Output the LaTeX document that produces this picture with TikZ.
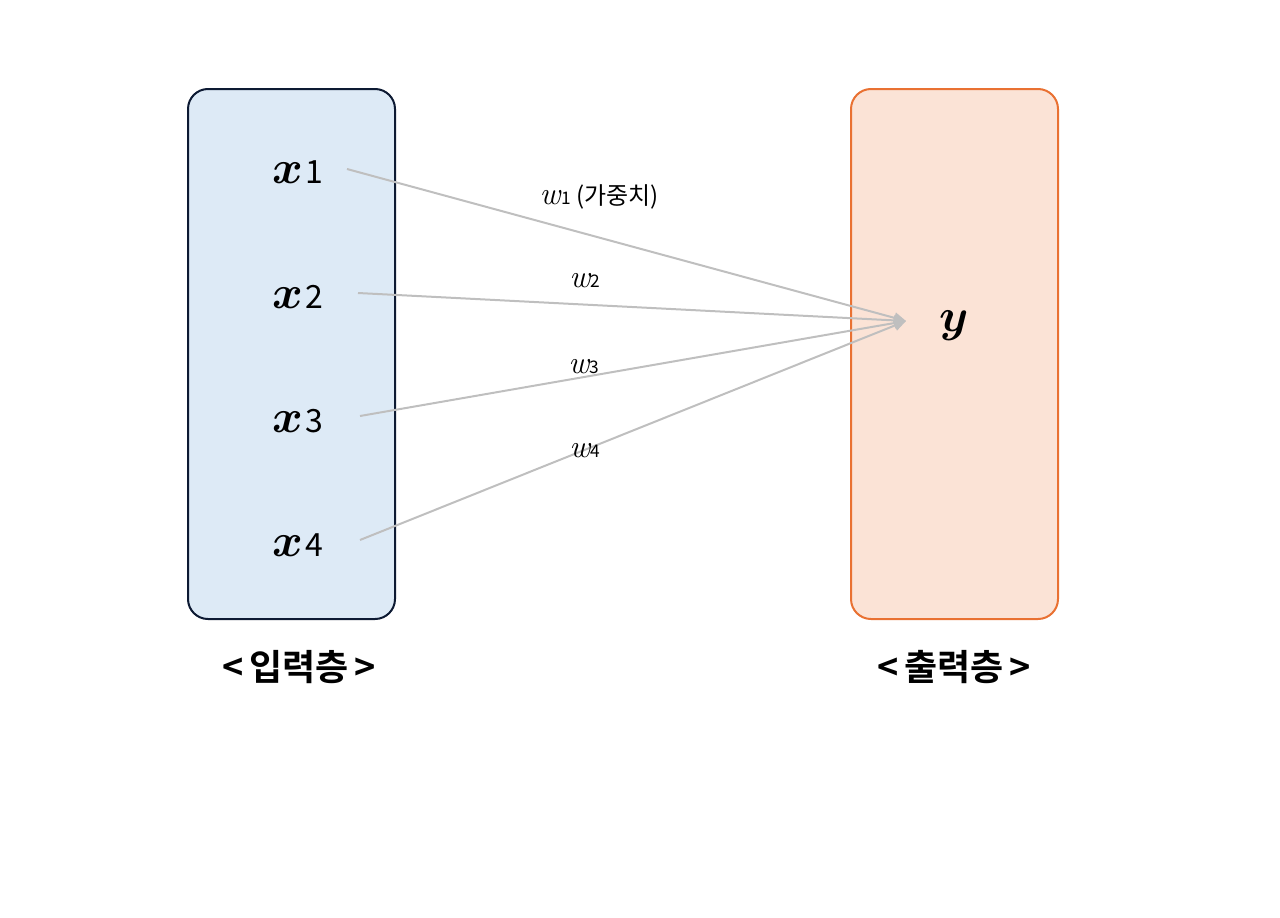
\documentclass[tikz,border=0pt]{standalone}
\usepackage{fontspec}
\usepackage{unicode-math}
\setmathfont{Latin Modern Math}
\newfontfamily\kr{Noto Sans CJK KR}
\newfontfamily\krb{Noto Sans CJK KR Bold}
\usetikzlibrary{arrows.meta}
\definecolor{inbg}{HTML}{DDEAF6}
\definecolor{inbd}{HTML}{0D1A33}
\definecolor{outbg}{HTML}{FBE3D6}
\definecolor{outbd}{HTML}{E97132}
\definecolor{edge}{HTML}{BFBFBF}
\tikzset{
  layer/.style={rounded corners=15pt, line width=1.5pt},
  var/.style={inner sep=0pt, font=\fontsize{35}{35}\selectfont},
  wlab/.style={inner sep=0pt, font=\kr\fontsize{18}{18}\selectfont},
  layercap/.style={inner sep=0pt, font=\krb\fontsize{27}{27}\selectfont},
  conn/.style={draw=edge, line width=1.5pt, -{Triangle[length=9pt,width=8pt]}}
}
\newcommand{\xsub}[1]{\kern1.5pt\kr\fontsize{24}{24}\selectfont #1}
\newcommand{\wsub}[1]{\kern0.5pt\kr\fontsize{13}{13}\selectfont #1}
\begin{document}
\begin{tikzpicture}[x=0.75pt,y=-0.75pt]
\useasboundingbox (0,0) rectangle (1280,917);
\draw[layer, fill=inbg, draw=inbd] (188,89) rectangle (395,619);
\draw[layer, fill=outbg, draw=outbd] (851,89) rectangle (1058,619);
\node[var] (x1) at (298,172) {$\symbfit{x}$\xsub{1}};
\node[var] (x2) at (298,297) {$\symbfit{x}$\xsub{2}};
\node[var] (x3) at (298,421) {$\symbfit{x}$\xsub{3}};
\node[var] (x4) at (298,545) {$\symbfit{x}$\xsub{4}};
\node[var] (y) at (954,326) {$\symbfit{y}$};
\coordinate (tip) at (906,321);
\coordinate (s1) at (347,169);
\coordinate (s2) at (358,293);
\coordinate (s3) at (360,416);
\coordinate (s4) at (360,540);
\draw[conn] (s1) -- (tip);
\draw[conn] (s2) -- (tip);
\draw[conn] (s3) -- (tip);
\draw[conn] (s4) -- (tip);
\node[wlab] (w1) at (599,197) {\fontsize{24}{24}\selectfont$\mathit{w}$\wsub{1}\fontsize{18}{18}\selectfont\ (가중치)};
\node[wlab] (w2) at (585,281) {\fontsize{24}{24}\selectfont$\mathit{w}$\wsub{2}};
\node[wlab] (w3) at (584,367) {\fontsize{24}{24}\selectfont$\mathit{w}$\wsub{3}};
\node[wlab] (w4) at (585,451) {\fontsize{24}{24}\selectfont$\mathit{w}$\wsub{4}};
\node[layercap] (inl) at (299,667) {<\kern4pt 입력층\kern4pt >};
\node[layercap] (outl) at (954,667) {<\kern4pt 출력층\kern4pt >};
\end{tikzpicture}
\end{document}
